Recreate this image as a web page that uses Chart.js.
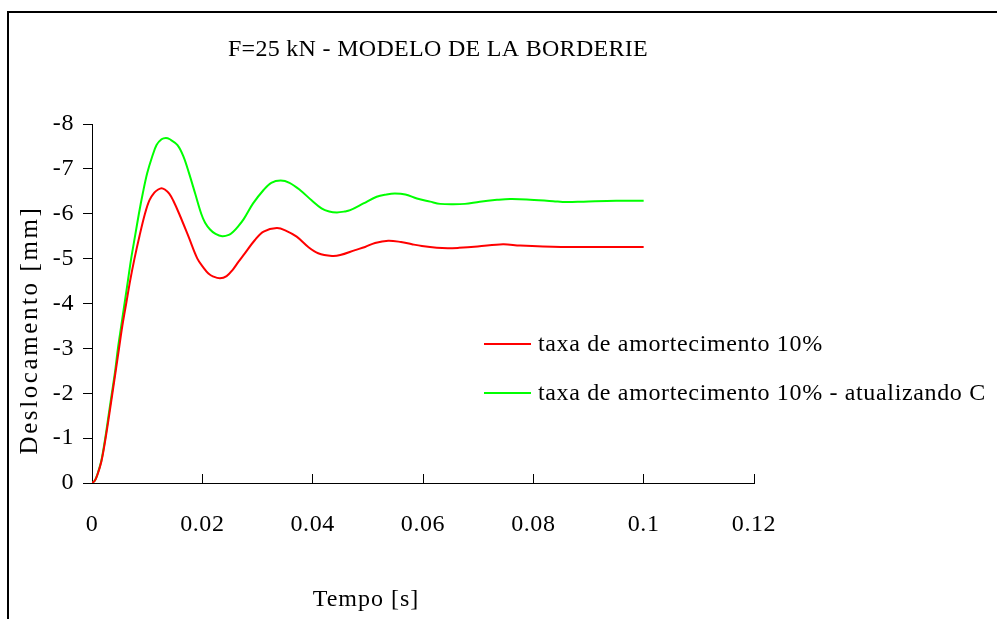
<!DOCTYPE html>
<html><head><meta charset="utf-8">
<script src="https://cdn.jsdelivr.net/npm/chart.js@4.4.0/dist/chart.umd.min.js"></script>
<style>html,body{margin:0;padding:0;background:#fff;overflow:hidden}canvas{display:block}</style>
</head><body>
<canvas id="c" width="997" height="619"></canvas>
<script>
// ---- data ----
const chartTitle = 'F=25 kN - MODELO DE LA BORDERIE';
const xTitle = 'Tempo [s]';
const yTitle = 'Deslocamento [mm]';
const seriesNames = ['taxa de amortecimento 10%', 'taxa de amortecimento 10% - atualizando C'];

const redTime = [0, 0.0005, 0.0010, 0.0017, 0.0024, 0.0031, 0.0037, 0.0043, 0.0049, 0.0055, 0.0062, 0.0069, 0.0077, 0.0086, 0.0096, 0.0104, 0.0113, 0.0120, 0.0126, 0.0132, 0.0140, 0.0147, 0.0158, 0.0175, 0.0191, 0.0202, 0.0211, 0.0220, 0.0232, 0.0244, 0.0255, 0.0265, 0.0276, 0.0295, 0.0311, 0.0335, 0.0352, 0.0371, 0.0392, 0.0410, 0.0435, 0.0450, 0.0477, 0.0495, 0.0513, 0.0537, 0.0560, 0.0580, 0.0598, 0.0625, 0.0645, 0.0665, 0.0699, 0.0745, 0.0776, 0.0850, 0.1];
const redDisp = [0, -0.05, -0.19, -0.48, -0.95, -1.5, -2.0, -2.5, -3.0, -3.5, -4.0, -4.5, -5.0, -5.5, -6.0, -6.3, -6.47, -6.54, -6.57, -6.54, -6.45, -6.3, -6.0, -5.49, -5.0, -4.8, -4.67, -4.6, -4.56, -4.61, -4.75, -4.92, -5.1, -5.41, -5.6, -5.68, -5.62, -5.49, -5.26, -5.12, -5.06, -5.08, -5.19, -5.26, -5.35, -5.40, -5.37, -5.32, -5.28, -5.24, -5.23, -5.24, -5.27, -5.32, -5.29, -5.26, -5.26];

const greenTime = [0, 0.0005, 0.0010, 0.0017, 0.0024, 0.0030, 0.0036, 0.0042, 0.0047, 0.0053, 0.0059, 0.0065, 0.0071, 0.0078, 0.0085, 0.0092, 0.0100, 0.0109, 0.0117, 0.0126, 0.0134, 0.0141, 0.0155, 0.0166, 0.0176, 0.0187, 0.0198, 0.0205, 0.0214, 0.0224, 0.0236, 0.0248, 0.0256, 0.0265, 0.0275, 0.0292, 0.0311, 0.0325, 0.0342, 0.0358, 0.0377, 0.0398, 0.0416, 0.0430, 0.0444, 0.0458, 0.0468, 0.0492, 0.0516, 0.0534, 0.0549, 0.0568, 0.0589, 0.0613, 0.0631, 0.0655, 0.0676, 0.0703, 0.0734, 0.0758, 0.0788, 0.0836, 0.0860, 0.0891, 0.0950, 0.1];
const greenDisp = [0, -0.05, -0.2, -0.5, -1.0, -1.5, -2.0, -2.5, -3.0, -3.5, -4.0, -4.5, -5.0, -5.5, -6.0, -6.45, -6.9, -7.27, -7.53, -7.66, -7.69, -7.66, -7.53, -7.27, -6.9, -6.45, -6.0, -5.8, -5.65, -5.55, -5.5, -5.53, -5.6, -5.72, -5.88, -6.23, -6.53, -6.69, -6.74, -6.69, -6.53, -6.3, -6.12, -6.05, -6.03, -6.05, -6.08, -6.23, -6.38, -6.43, -6.45, -6.43, -6.34, -6.27, -6.22, -6.21, -6.22, -6.27, -6.31, -6.33, -6.32, -6.28, -6.26, -6.27, -6.29, -6.29];

const xMin = 0, xMax = 0.12, xStep = 0.02;
const yMin = -8, yMax = 0, yStep = 1;
const seriesColors = ['#ff0000', '#00ff00'];

const serif = '"Liberation Serif", "Times New Roman", serif';

function spaced(ctx, txt, x, y, sp) {
  if ('letterSpacing' in ctx) {
    ctx.letterSpacing = sp + 'px';
    ctx.fillText(txt, x, y);
    ctx.letterSpacing = '0px';
  } else ctx.fillText(txt, x, y);
}

const deco = {
  id: 'deco',
  beforeDraw(chart) { if ('letterSpacing' in chart.ctx) chart.ctx.letterSpacing = '0.6px'; },
  afterDraw(chart) {
    const ctx = chart.ctx;
    ctx.save();
    ctx.strokeStyle = '#000';
    ctx.lineWidth = 2;
    ctx.beginPath();
    ctx.moveTo(8, 640); ctx.lineTo(8, 12); ctx.lineTo(1000, 12);
    ctx.stroke();
    ctx.fillStyle = '#000';
    ctx.textAlign = 'center';
    ctx.textBaseline = 'middle';
    ctx.font = '24px ' + serif;
    spaced(ctx, chartTitle, 438, 50, 0.3);
    spaced(ctx, xTitle, 366, 600, 1);
    ctx.save();
    ctx.translate(30, 330);
    ctx.rotate(-Math.PI / 2);
    ctx.font = '25px ' + serif;
    spaced(ctx, yTitle, 0, 0, 2.6);
    ctx.restore();
    ctx.textAlign = 'left';
    ctx.font = '24px ' + serif;
    chart.data.datasets.forEach((ds, i) => {
      const y = 344 + i * 49;
      ctx.strokeStyle = ds.borderColor;
      ctx.lineWidth = 2;
      ctx.beginPath(); ctx.moveTo(484, y); ctx.lineTo(531, y); ctx.stroke();
      ctx.fillStyle = '#000';
      spaced(ctx, ds.label, 538, y + 1, 0.65);
    });
    ctx.restore();
  }
};

const toPts = (t, v) => t.map((x, i) => ({ x: x, y: v[i] }));

new Chart(document.getElementById('c'), {
  type: 'line',
  data: {
    datasets: [
      { label: seriesNames[0], data: toPts(redTime, redDisp), borderColor: seriesColors[0], borderWidth: 2, pointRadius: 0, fill: false, tension: 0.35 },
      { label: seriesNames[1], data: toPts(greenTime, greenDisp), borderColor: seriesColors[1], borderWidth: 2, pointRadius: 0, fill: false, tension: 0.35 }
    ]
  },
  options: {
    responsive: false,
    animation: false,
    events: [],
    layout: { padding: { left: 0, right: 243, top: 124, bottom: 0 } },
    plugins: { legend: { display: false }, title: { display: false }, tooltip: { enabled: false } },
    scales: {
      x: {
        type: 'linear', min: xMin, max: xMax,
        ticks: { stepSize: xStep, autoSkip: false, maxRotation: 0, color: '#000', font: { family: serif, size: 24 }, padding: 36,
          callback: v => String(Math.round(v * 100) / 100) },
        grid: { drawOnChartArea: false, tickLength: -9, color: '#000', lineWidth: 1 },
        border: { color: '#000', width: 1 },
        afterFit(s) { s.height = 136; }
      },
      y: {
        type: 'linear', min: yMin, max: yMax, reverse: true,
        ticks: { stepSize: yStep, color: '#000', font: { family: serif, size: 24 }, padding: 9 },
        grid: { drawOnChartArea: false, tickLength: 9, color: '#000', lineWidth: 1 },
        border: { color: '#000', width: 1 },
        afterFit(s) { s.width = 92; }
      }
    }
  },
  plugins: [deco]
});
</script>
</body></html>
